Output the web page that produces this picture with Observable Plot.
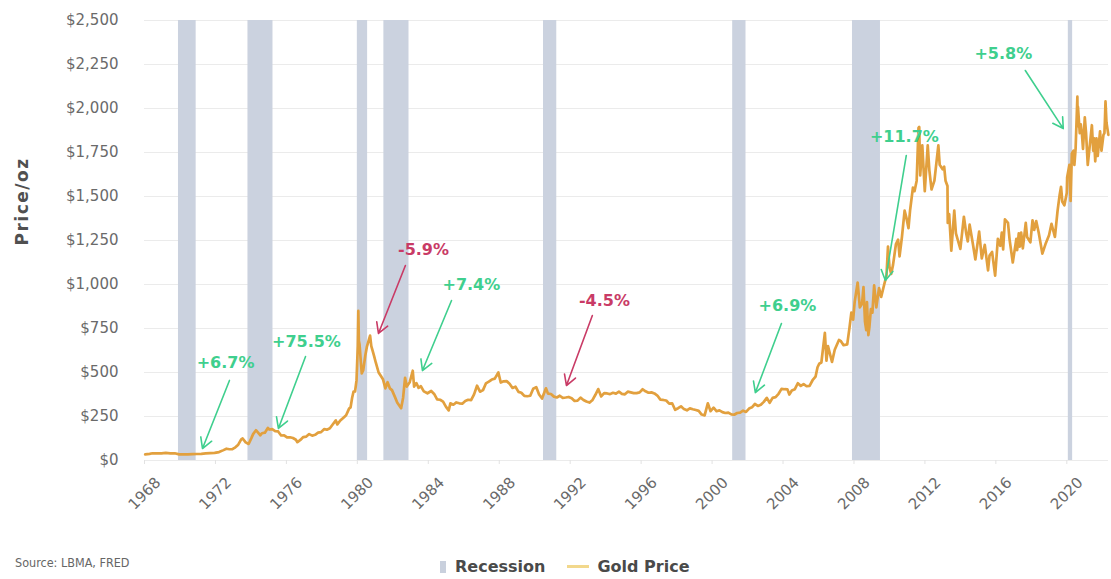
<!DOCTYPE html>
<html>
<head>
<meta charset="utf-8">
<script src="https://cdn.jsdelivr.net/npm/d3@7"></script>
<script src="https://cdn.jsdelivr.net/npm/@observablehq/plot@0.6"></script>
<style>
  body { margin: 0; background: #fff; }
  #wrap { position: relative; width: 1111px; height: 579px; overflow: hidden; font-family: "DejaVu Sans", sans-serif; }
  #chart svg { display: block; }
  #source { position: absolute; left: 15px; top: 555px; font-family: "DejaVu Sans Condensed", "DejaVu Sans", sans-serif; font-stretch: condensed; font-size: 12.5px; color: #666; }
  #legend { position: absolute; left: 440px; top: 557px; display: flex; align-items: center; font-family: "DejaVu Sans", sans-serif; font-weight: bold; font-size: 16px; color: #4a4a4a; white-space: nowrap; }
  .sw-rect { width: 6px; height: 12px; background: #c9d0dd; margin-right: 9px; }
  .sw-line { width: 22px; height: 3px; background: #f2d88c; margin: 0 8px 0 22px; }
</style>
</head>
<body>
<div id="wrap">
  <div id="chart"></div>
  <div id="source"></div>
  <div id="legend"></div>
</div>
<script>
// ---------- data ----------
const sourceText = "Source: LBMA, FRED";
const yAxisTitle = "Price/oz";
const legendLabels = ["Recession", "Gold Price"];

const xTickYears = [1968, 1972, 1976, 1980, 1984, 1988, 1992, 1996, 2000, 2004, 2008, 2012, 2016, 2020];
const yTickValues = [0, 250, 500, 750, 1000, 1250, 1500, 1750, 2000, 2250, 2500];

const recessionStart = ["1969-12-01", "1973-11-01", "1980-01-01", "1981-07-01", "1990-07-01", "2001-03-01", "2007-12-01", "2020-02-01"];
const recessionEnd   = ["1970-11-30", "1975-03-31", "1980-07-31", "1982-11-30", "1991-03-31", "2001-11-30", "2009-06-30", "2020-04-30"];

const goldDates = [
  "1968-01","1968-04","1968-06","1968-09","1968-12","1969-03","1969-06","1969-09","1969-12","1970-03","1970-06","1970-09","1970-12",
  "1971-03","1971-06","1971-09","1971-12","1972-03","1972-06","1972-08","1972-10","1972-12","1973-02","1973-04","1973-06","1973-07",
  "1973-09","1973-11","1974-01","1974-02","1974-04","1974-05","1974-07","1974-08","1974-10","1974-12","1975-01","1975-03","1975-05",
  "1975-07","1975-09","1975-11","1976-01","1976-03","1976-05","1976-07","1976-08","1976-10","1976-12","1977-02","1977-04","1977-06",
  "1977-08","1977-10","1977-12","1978-02","1978-04","1978-06","1978-08","1978-10","1978-11","1979-01","1979-03","1979-05","1979-07",
  "1979-08","1979-09","1979-10","1979-11","1979-12","1980-01-10","1980-01-21","1980-02-01","1980-02-15","1980-03-15","1980-04-01",
  "1980-05-01","1980-06-15","1980-07-15","1980-09-20","1980-10-15","1980-11-15","1980-12-15","1981-01-15","1981-03-15","1981-05-01",
  "1981-06-15","1981-08-01","1981-09-15","1981-11-01","1981-12-15","1982-02-15","1982-04-01","1982-06-21","1982-08-01","1982-09-10",
  "1982-10-15","1982-12-15","1983-02-15","1983-03-15","1983-05-01","1983-06-15","1983-08-01","1983-10-01","1983-12-15","1984-03-01",
  "1984-05-01","1984-07-01","1984-09-01","1984-11-01","1985-01-01","1985-02-25","1985-04-01","1985-06-01","1985-08-01","1985-10-01",
  "1985-12-01","1986-02-01","1986-04-01","1986-06-01","1986-08-01","1986-10-01","1986-12-01","1987-02-01","1987-04-01","1987-06-01",
  "1987-08-01","1987-10-01","1987-12-14","1988-02-01","1988-04-01","1988-06-01","1988-08-01","1988-10-01","1988-12-01","1989-02-01",
  "1989-04-01","1989-06-01","1989-08-01","1989-10-01","1989-12-01","1990-02-01","1990-04-01","1990-06-01","1990-08-20","1990-10-01",
  "1990-12-01","1991-02-01","1991-04-01","1991-06-01","1991-08-01","1991-10-01","1991-12-01","1992-02-01","1992-04-01","1992-06-01",
  "1992-08-01","1992-10-01","1992-12-01","1993-02-01","1993-04-01","1993-06-01","1993-08-01","1993-10-01","1993-12-01","1994-02-01",
  "1994-04-01","1994-06-01","1994-08-01","1994-10-01","1994-12-01","1995-02-01","1995-04-01","1995-06-01","1995-08-01","1995-10-01",
  "1995-12-01","1996-02-01","1996-04-01","1996-06-01","1996-08-01","1996-10-01","1996-12-01","1997-02-01","1997-04-01","1997-06-01",
  "1997-08-01","1997-10-01","1997-12-01","1998-02-01","1998-04-01","1998-06-01","1998-08-01","1998-10-01","1998-12-01","1999-02-01",
  "1999-04-01","1999-06-01","1999-08-01","1999-10-05","1999-12-01","2000-02-01","2000-04-01","2000-06-01","2000-08-01","2000-10-01",
  "2000-12-01","2001-02-01","2001-04-01","2001-06-01","2001-08-01","2001-10-01","2001-12-01","2002-02-01","2002-04-01","2002-06-01",
  "2002-08-01","2002-10-01","2002-12-01","2003-02-01","2003-04-01","2003-06-01","2003-08-01","2003-10-01","2003-12-01","2004-02-01",
  "2004-04-01","2004-05-10","2004-07-01","2004-09-01","2004-11-01","2005-01-01","2005-03-01","2005-05-01","2005-07-01","2005-09-01",
  "2005-11-01","2005-12-12","2006-01-15","2006-03-01","2006-05-12","2006-06-14","2006-07-15","2006-09-01","2006-10-06","2006-12-01",
  "2007-02-26","2007-04-01","2007-06-01","2007-08-15","2007-10-01","2007-11-08","2007-12-15","2008-01-15","2008-03-17","2008-04-15",
  "2008-05-01","2008-06-15","2008-07-15","2008-08-15","2008-09-11","2008-09-25","2008-10-24","2008-11-15","2008-12-15","2009-01-15",
  "2009-02-20","2009-04-06","2009-06-01","2009-07-15","2009-09-15","2009-11-01","2009-12-02","2010-01-01","2010-02-05","2010-03-15",
  "2010-05-15","2010-06-28","2010-07-28","2010-09-15","2010-11-09","2010-12-15","2011-01-28","2011-03-01","2011-04-29","2011-06-01",
  "2011-07-15","2011-08-22","2011-09-06","2011-09-26","2011-11-08","2011-12-29","2012-02-28","2012-04-01","2012-05-16","2012-07-15",
  "2012-10-04","2012-11-01","2012-12-31","2013-02-01","2013-03-01","2013-04-10","2013-04-16","2013-05-15","2013-06-28","2013-08-28",
  "2013-10-01","2013-12-31","2014-03-14","2014-05-01","2014-06-02","2014-07-10","2014-09-15","2014-11-05","2015-01-22","2015-03-17",
  "2015-05-18","2015-07-24","2015-08-24","2015-10-15","2015-12-17","2016-02-11","2016-04-01","2016-05-02","2016-05-30","2016-07-06",
  "2016-09-07","2016-10-10","2016-12-15","2017-02-27","2017-03-15","2017-04-17","2017-05-09","2017-06-06","2017-07-10","2017-09-08",
  "2017-10-05","2017-12-12","2018-01-25","2018-03-01","2018-04-11","2018-06-01","2018-08-16","2018-10-26","2018-12-31","2019-02-20",
  "2019-05-01","2019-06-25","2019-08-07","2019-09-04","2019-10-01","2019-11-12","2019-12-31","2020-01-08","2020-02-24","2020-03-19",
  "2020-04-14","2020-05-18","2020-06-05","2020-06-30","2020-08-06","2020-08-11","2020-08-18","2020-09-24","2020-10-15","2020-11-09",
  "2020-11-30","2021-01-06","2021-02-01","2021-03-08","2021-04-15","2021-06-01","2021-06-28","2021-07-15","2021-08-09","2021-09-03",
  "2021-09-29","2021-11-16","2021-12-15","2022-01-25","2022-02-14","2022-02-24","2022-03-08","2022-03-28","2022-05-06"
];
const goldPrices = [
  35,38,41,40,41,43,41,41,35,35,35,36,37,
  38,40,42,43,48,59,67,64,64,75,90,120,125,
  103,94,130,150,172,163,143,155,158,185,176,178,167,
  165,142,143,131,132,128,118,104,117,133,136,150,141,
  146,158,161,178,175,183,206,228,205,227,242,257,295,
  302,355,392,392,455,650,850,680,660,553,495,
  513,600,645,710,650,620,590,557,500,480,
  460,410,445,410,400,360,330,297,357,470,
  420,445,510,420,440,413,422,393,382,395,
  378,347,345,335,305,285,325,317,330,325,
  323,338,345,343,376,425,391,400,438,448,
  460,465,500,443,450,451,436,412,419,390,
  385,367,365,368,408,417,375,352,410,380,
  378,363,358,368,356,358,361,354,338,340,
  357,344,335,329,342,372,406,364,383,381,
  377,385,380,391,379,376,391,387,383,383,
  387,405,393,385,387,381,369,346,344,341,
  323,325,288,297,308,292,285,296,291,287,
  282,261,256,325,280,300,280,285,275,270,
  272,262,260,270,272,283,276,295,302,321,
  310,317,333,356,328,356,360,379,407,405,
  404,375,398,405,439,424,434,422,424,456,
  476,530,550,557,725,567,650,598,560,629,
  685,680,655,660,755,840,800,900,1011,920,
  870,890,985,790,740,900,712,760,860,840,
  995,870,980,930,1000,1050,1215,1100,1060,1110,
  1230,1255,1160,1270,1420,1380,1320,1420,1550,1530,
  1590,1890,1895,1620,1790,1530,1790,1650,1540,1590,
  1790,1680,1655,1670,1590,1560,1350,1400,1192,1420,
  1290,1202,1385,1290,1245,1340,1230,1142,1300,1148,
  1225,1080,1165,1185,1050,1260,1220,1295,1200,1370,
  1350,1255,1125,1260,1195,1290,1215,1295,1205,1350,
  1270,1240,1365,1310,1360,1295,1175,1235,1280,1345,
  1270,1420,1510,1555,1470,1450,1520,1610,1680,1475,
  1745,1760,1680,1770,2067,1900,2010,1860,1910,1850,
  1770,1950,1860,1680,1780,1905,1760,1830,1700,1830,
  1730,1870,1760,1850,1860,1930,2040,1920,1850
];

const annLabels     = ["+6.7%", "+75.5%", "-5.9%", "+7.4%", "-4.5%", "+6.9%", "+11.7%", "+5.8%"];
const annTextYear   = [1972.57, 1977.13, 1983.73, 1986.43, 1993.93, 2004.25, 2010.84, 2016.42];
const annTextPrice  = [557, 676, 1199, 1000, 909, 881, 1841, 2313];
const annFromYear   = [1972.79, 1977.08, 1982.71, 1985.31, 1993.25, 2003.91, 2010.95, 2017.66];
const annFromPrice  = [455, 591, 1108, 909, 824, 778, 1733, 2216];
const annToYear     = [1971.27, 1975.55, 1981.19, 1983.67, 1991.79, 2002.44, 2009.77, 2019.80];
const annToPrice    = [68, 182, 722, 511, 426, 386, 1023, 1886];

// ---------- helpers ----------
function toYear(s) {
  const d = new Date(s.length === 7 ? s + "-15T00:00:00Z" : s + "T00:00:00Z");
  const y = d.getUTCFullYear();
  const a = Date.UTC(y, 0, 1), b = Date.UTC(y + 1, 0, 1);
  return y + (d - a) / (b - a);
}

const gold = goldDates.map((d, i) => ({year: toYear(d), price: goldPrices[i]}));
const recessions = recessionStart.map((s, i) => ({start: toYear(s), end: toYear(recessionEnd[i])}));
const annotations = annLabels.map((label, i) => ({
  label,
  tx: annTextYear[i], ty: annTextPrice[i],
  x1: annFromYear[i], y1: annFromPrice[i],
  x2: annToYear[i], y2: annToPrice[i],
  neg: label.startsWith("-")
}));

const GREEN = "#3fcf8e", RED = "#c93b66";
const colorOf = d => d.neg ? RED : GREEN;

const chart = Plot.plot({
  width: 1111,
  height: 540,
  marginTop: 20,
  marginBottom: 80,
  marginLeft: 144,
  marginRight: 3,
  style: {color: "#6a6a6a", fontFamily: "DejaVu Sans, sans-serif", background: "#fff"},
  x: {domain: [1968, 2022.35]},
  y: {domain: [0, 2500]},
  marks: [
    Plot.gridY(yTickValues, {stroke: "#ebebeb", strokeOpacity: 1}),
    Plot.rect(recessions, {x1: "start", x2: "end", fill: "#cbd2df"}),
    Plot.axisX({ticks: xTickYears, tickSize: 4, stroke: "#e2e2e2", tickFormat: () => ""}),
    Plot.axisX({ticks: xTickYears, tickSize: 0, tickPadding: 33, tickRotate: -45, textAnchor: "middle", lineAnchor: "middle",
                tickFormat: d => String(d), fontSize: 15, fill: "#6a6a6a"}),
    Plot.axisY({ticks: yTickValues, tickSize: 0, tickPadding: 26, fontSize: 15, fill: "#6a6a6a",
                tickFormat: d => "$" + d3.format(",")(d), label: null}),
    Plot.text([yAxisTitle], {frameAnchor: "left", text: d => d, rotate: -90, dx: -122, dy: 5,
                fontSize: 17, fontWeight: "bold", fill: "#505050"}),
    Plot.line(gold, {x: "year", y: "price", stroke: "#e2a03e", strokeWidth: 2.7, strokeLinejoin: "round"}),
    Plot.arrow(annotations, {x1: "x1", y1: "y1", x2: "x2", y2: "y2", stroke: colorOf, strokeWidth: 1.6, headLength: 11}),
    Plot.text(annotations, {x: "tx", y: "ty", text: "label", fill: colorOf, fontSize: 16, fontWeight: "bold"})
  ]
});
document.getElementById("chart").appendChild(chart);

// letter spacing for the y axis title
d3.select(chart).selectAll("text").filter(function() { return this.textContent === yAxisTitle; })
  .style("letter-spacing", "1.5px");

document.getElementById("source").textContent = sourceText;
const legend = document.getElementById("legend");
legend.innerHTML = `<span class="sw-rect"></span><span>${legendLabels[0]}</span><span class="sw-line"></span><span>${legendLabels[1]}</span>`;
</script>
</body>
</html>
